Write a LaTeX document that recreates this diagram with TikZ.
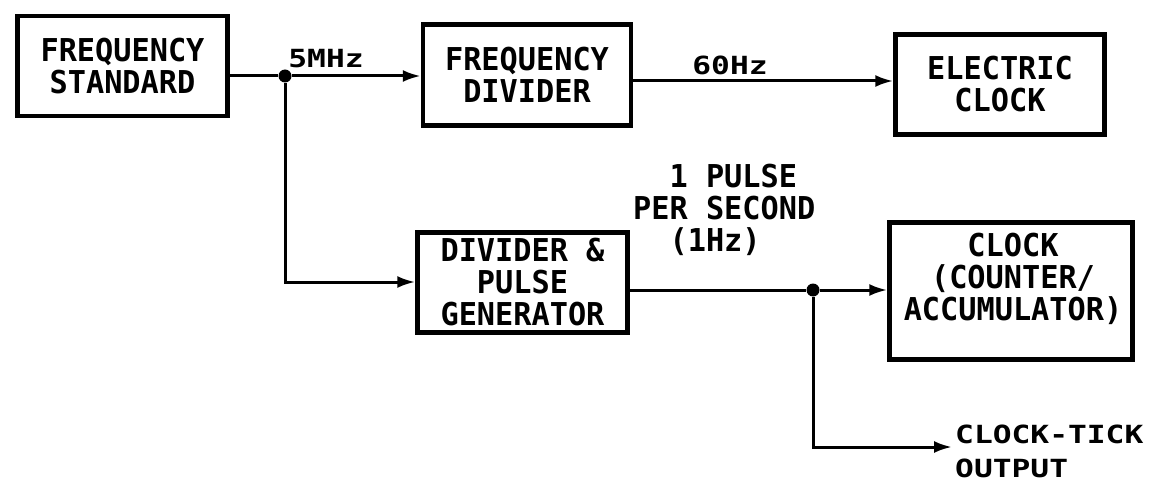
\documentclass[tikz,border=0pt]{standalone}
\usepackage{fontspec}
\setmonofont{DejaVu Sans Mono}
\newfontfamily\boxfontfam{DejaVu Sans Mono}[FakeStretch=0.96]
\newfontfamily\lblfont{DejaVu Sans Mono}[FakeStretch=1.25]
\usetikzlibrary{arrows.meta}
\begin{document}
\begin{tikzpicture}[x=1pt,y=-1pt,
  boxfont/.style={font=\boxfontfam\bfseries\fontsize{31.5}{32}\selectfont},
  box/.style={draw,line width=4.5pt,inner sep=0pt,align=center,boxfont},
  txt/.style={inner sep=0pt,align=center,boxfont},
  lbl/.style={inner sep=0pt,font=\lblfont\bfseries\fontsize{25}{34}\selectfont},
  wire/.style={line width=3pt},
  arr/.style={wire,-{Latex[length=18pt,width=12pt]}},
  dot/.style={circle,fill,inner sep=0pt,minimum size=13pt}]
\useasboundingbox (0,0) rectangle (1151,481);

\node[box,minimum width=210,minimum height=100] (fs) at (122.5,66) {FREQUENCY\\STANDARD};
\node[box,minimum width=208,minimum height=101] (fd) at (527,75) {FREQUENCY\\DIVIDER};
\node[box,minimum width=209,minimum height=100] (ec) at (1000,84.5) {ELECTRIC\\CLOCK};
\node[box,minimum width=210,minimum height=100] (dp) at (522.5,282.5) {DIVIDER \&\\PULSE\\GENERATOR};
\node[box,minimum width=243,minimum height=137] (cl) at (1011,291) {};
\node[txt] (clt) at (1013,279) {CLOCK\\(COUNTER/\\ACCUMULATOR)};

\node[dot] (j1) at (285,76) {};
\node[dot] (j2) at (813,290) {};
\coordinate (k1) at (285,282);
\coordinate (k2) at (813,447);
\coordinate (out) at (952,447);
\coordinate (f60) at (760,81);

\draw[wire] (fs.east |- j1) -- (j1);
\draw[arr] (j1) -- (fd.west |- j1);
\draw[arr] (fd.east |- f60) -- (ec.west |- f60);
\draw[arr] (j1) -- (k1) -- (dp.west |- k1);
\draw[wire] (dp.east |- j2) -- (j2);
\draw[arr] (j2) -- (cl.west |- j2);
\draw[arr] (j2) -- (k2) -- (out);

\node[lbl] (l5) at (326,58.5) {5MHz};
\node[lbl] (l60) at (730,65) {60Hz};
\node[txt,align=left,anchor=west] (lps) at (633,210) {~~1 PULSE\\PER SECOND\\~~(1Hz)};
\node[lbl,align=left,anchor=west] (cto) at (955,451) {CLOCK-TICK\\OUTPUT};
\end{tikzpicture}
\end{document}
